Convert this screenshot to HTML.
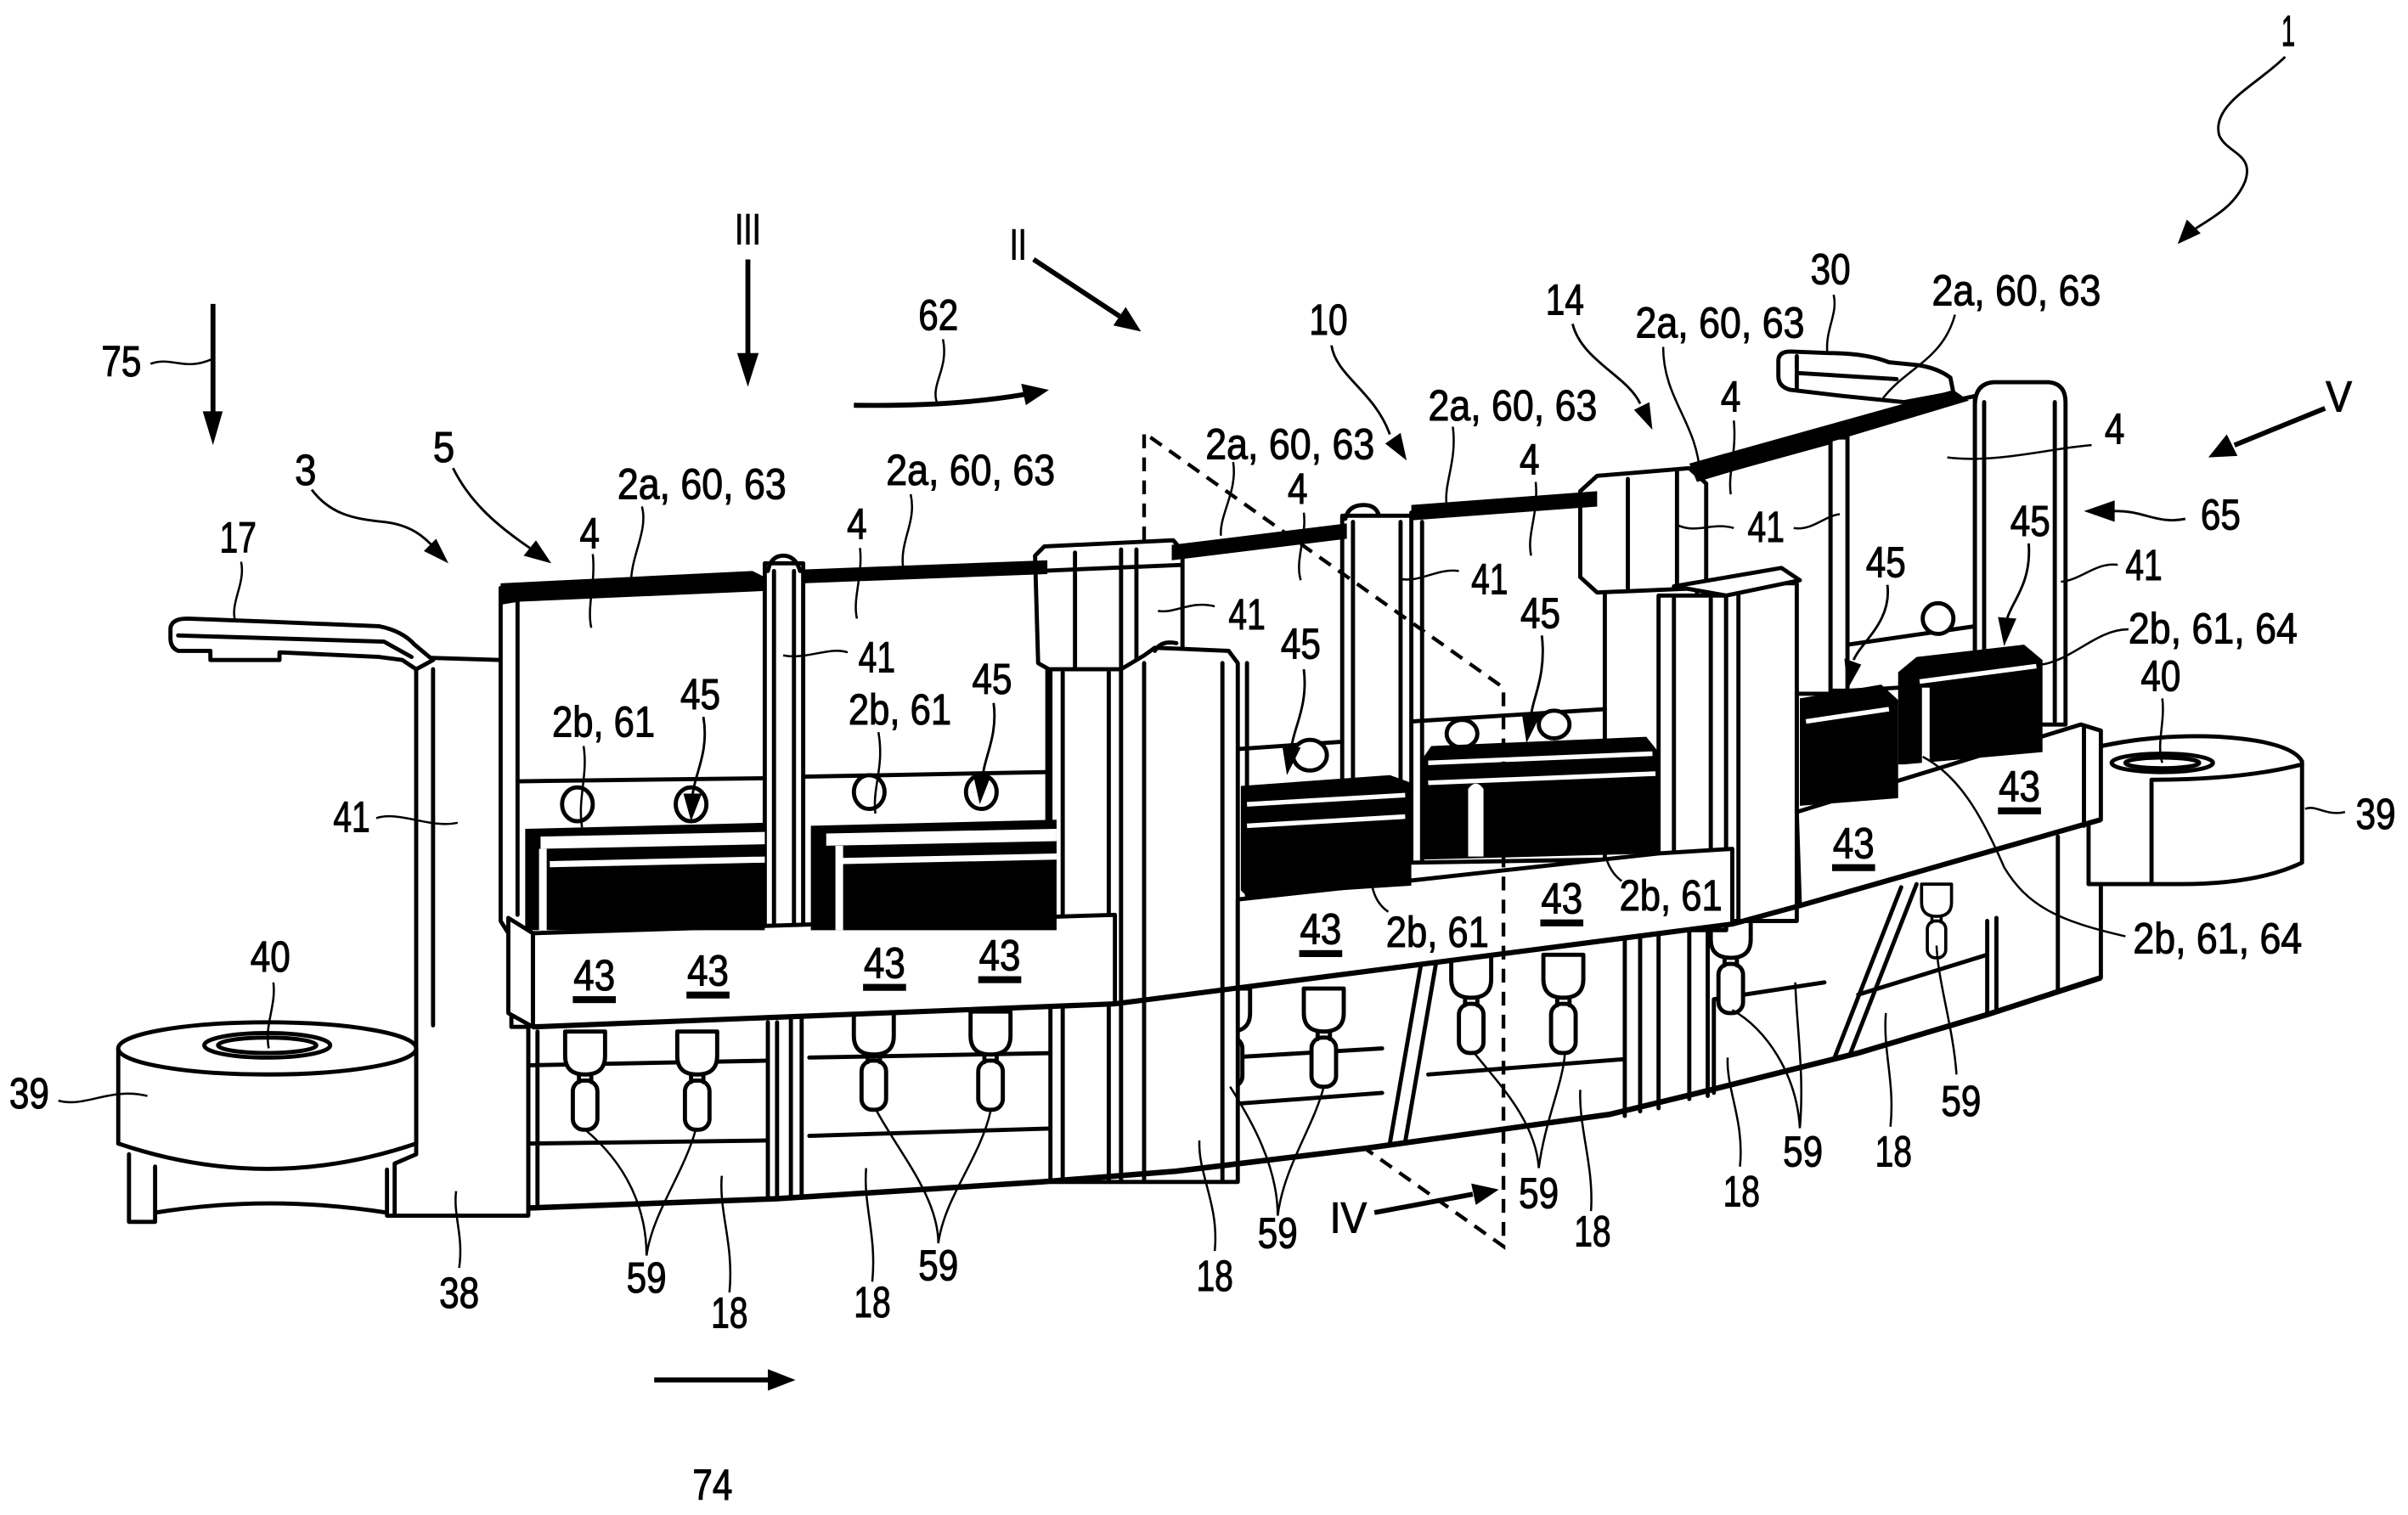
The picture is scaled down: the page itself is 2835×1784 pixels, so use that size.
<!DOCTYPE html>
<html><head><meta charset="utf-8">
<style>
html,body{margin:0;padding:0;background:#fff;}
svg{display:block;}
text{font-family:"Liberation Sans Narrow","Liberation Sans",sans-serif;font-size:28px;fill:#000;stroke:#000;stroke-width:0.6;text-anchor:middle;}
</style></head><body>
<svg width="2835" height="1784" viewBox="0 0 1568 987" preserveAspectRatio="none" xmlns="http://www.w3.org/2000/svg">
<defs>
<g id="pin"><path d="M-13,0 L13,0 L13,16 Q13,28 0,28 Q-13,28 -13,16 Z"/><rect x="-8" y="32" width="16" height="32" rx="7"/><path d="M-4,28 L-4,33 M4,28 L4,33" fill="none"/></g>
</defs>
<rect width="1568" height="987" fill="#fff"/>

<g fill="#fff" stroke="#000" stroke-width="2.7" stroke-linejoin="round" stroke-linecap="round">
<!-- lower housing -->
<path d="M344,668 L726,654 L1128,602 L1172,590 L1368,534 L1368,637 L1294,661 L1210,686 L1106,712 L1048,726 L890,748 L766,763 L678,770 L505,781 L344,787 Z"/>
<g fill="none">
<path d="M344,694 L500,691 M527,689 L690,686 M344,745 L500,743 M527,740 L690,735 M350,672 L350,786"/>
<path d="M500,666 L500,781 M506,666 L506,780 M515,664 L515,779 M522,664 L522,778 M690,656 L690,770"/>
<path d="M766,650 L766,763 M766,691 L900,683 M766,722 L900,712 M930,700 L1058,690 M905,745 L925,630 M915,744 L935,628 M1058,611 L1058,727 M1068,610 L1068,724 M1080,608 L1080,722 M1100,605 L1100,716 M1112,603 L1112,714"/>
<path d="M1116,651 L1188,640 M1116,651 L1116,712 M1195,688 L1238,578 M1205,686 L1248,576 M1210,648 L1294,622 M1294,600 L1294,661 M1300,598 L1300,659 M1340,545 L1340,645"/>
</g>
<use href="#pin" transform="translate(381,672)"/>
<use href="#pin" transform="translate(454,672)"/>
<use href="#pin" transform="translate(569,659)"/>
<use href="#pin" transform="translate(645,659)"/>
<use href="#pin" transform="translate(801,644)"/>
<use href="#pin" transform="translate(862,644)"/>
<use href="#pin" transform="translate(958,622)"/>
<use href="#pin" transform="translate(1018,622)"/>
<use href="#pin" transform="translate(1127,596)"/>
<use href="#pin" transform="translate(1261,576) scale(0.75)"/>

<!-- left column 41 / 38 -->
<path d="M262,428 L326,430 L333,436 L333,669 L344,669 L344,792 L257,792 L257,758 L271,752 L271,436 Z"/>
<path d="M282,436 L282,668" fill="none"/>

<!-- module panels -->
<path d="M326,383 L498,377 L498,608 L331,608 L326,600 Z"/>
<path d="M337,392 L337,596" fill="none"/>
<path d="M523,375 L682,370 L682,606 L523,608 Z"/>
<path d="M763,360 L877,346 L877,586 L763,586 Z"/>
<path d="M812,432 L812,584" fill="none"/>
<path d="M919,334 L1045,325 L1045,560 L919,562 Z"/>
<path d="M926,340 L926,560" fill="none"/>
<path d="M1105,312 L1192,288 L1192,452 L1105,452 Z"/>
<path d="M1203,276 L1286,258 L1286,445 L1203,450 Z"/>
<path d="M1286,264 Q1286,250 1298,249 L1334,249 Q1345,250 1345,262 L1345,472 L1286,472 Z"/>
<path d="M1292,262 L1292,470 M1338,262 L1338,470" fill="none"/>
<rect x="1192" y="285" width="11" height="165"/>
<!-- cap 30 -->
<path d="M1158,235 Q1158,229 1166,229 L1190,230 Q1215,230 1230,236 L1250,238 Q1262,240 1270,246 L1272,256 L1240,262 L1200,258 L1166,254 Q1158,252 1158,245 Z"/>
<path d="M1170,243 L1235,247 M1170,232 L1170,253" fill="none"/>

<!-- strips & bumps -->
<path d="M337,509 L498,507 M523,506 L682,503 M806,488 L877,483 M919,470 L1045,462 M1203,420 L1286,408" fill="none"/>
<ellipse cx="376" cy="524" rx="10" ry="11"/><ellipse cx="450" cy="524" rx="10" ry="11"/>
<ellipse cx="566" cy="516" rx="10" ry="11"/><ellipse cx="639" cy="516" rx="10" ry="11"/>
<ellipse cx="853" cy="492" rx="11" ry="10"/>
<ellipse cx="952" cy="478" rx="10" ry="9"/><ellipse cx="1012" cy="472" rx="10" ry="9"/>
<ellipse cx="1262" cy="403" rx="10" ry="10"/>

<!-- pillars / columns -->
<rect x="498" y="367" width="25" height="241"/>
<path d="M504,372 L504,606 M517,372 L517,606 M500,372 Q502,362 510,362 Q518,362 521,372" fill="none"/>
<path d="M674,362 L680,356 L764,352 L770,359 L770,432 L690,440 L676,432 Z"/>
<path d="M700,360 L700,436 M730,358 L730,436 M740,358 L740,434 M676,372 L770,368" fill="none"/>
<rect x="684" y="436" width="46" height="334"/>
<path d="M692,438 L692,770 M722,438 L722,770" fill="none"/>
<path d="M730,436 L745,427 L752,422 L800,424 L806,432 L806,770 L730,770 Z"/>
<path d="M745,432 L745,770 M796,432 L796,770 M752,424 Q756,417 766,419" fill="none"/>
<rect x="874" y="336" width="45" height="176"/>
<path d="M881,340 L881,512 M912,340 L912,512 M876,338 Q878,329 888,329 Q896,329 898,336" fill="none"/>
<rect x="1080" y="388" width="44" height="218"/>
<path d="M1090,390 L1090,606 M1114,390 L1114,606" fill="none"/>
<rect x="1124" y="380" width="46" height="220"/>
<path d="M1132,382 L1132,600" fill="none"/>
<path d="M1029,320 L1040,310 L1100,305 L1111,315 L1111,383 L1040,386 L1029,376 Z"/>
<path d="M1060,312 L1060,385 M1092,307 L1092,383" fill="none"/>
<path d="M1090,382 L1160,370 L1172,378 L1124,388 Z"/>
<path d="M1170,449 L1170,529" fill="none"/>

<!-- right cylinder -->
<path d="M1360,488 Q1400,478 1445,480 Q1492,483 1499,496 L1499,562 Q1470,576 1420,576 L1360,576 Z"/>
<path d="M1401,508 L1401,575 M1401,508 Q1460,508 1499,498" fill="none"/>
<ellipse cx="1408" cy="497" rx="33" ry="6"/>
<ellipse cx="1408" cy="497" rx="24" ry="3.5" fill="none"/>

<!-- bars 43 -->
<path d="M347,608 L726,596 L726,654 L347,669 Z"/>
<path d="M331,598 L347,608 L347,669 L331,660 Z"/>
<path d="M806,586 L1080,556 L1128,553 L1128,602 L806,644 Z"/>
<path d="M1170,529 L1355,472 L1368,476 L1368,534 L1172,590 Z"/>
<path d="M1357,474 L1357,538" fill="none"/>

<!-- left cylinder -->
<path d="M77,683 L77,745 Q174,778 271,745 L271,683 Z"/>
<ellipse cx="174" cy="683" rx="97" ry="17"/>
<ellipse cx="174" cy="681" rx="41" ry="8"/>
<ellipse cx="174" cy="681" rx="32" ry="5" fill="none"/>
<path d="M84,752 L84,796 L101,796 L101,760 M101,790 Q175,778 252,790 M252,762 L252,792 L258,792" fill="none"/>

<!-- bracket 17 -->
<path d="M111,409 Q112,403 122,403 L175,405 L247,408 Q262,411 270,420 L282,430 L271,436 L262,430 L247,428 L182,425 L182,430 L137,430 L137,424 L116,424 Q111,422 111,416 Z"/>
<path d="M116,414 L250,418 L268,428" fill="none"/>
</g>

<!-- black top bands -->
<g fill="#000">
<path d="M326,380 L490,372 L498,376 L498,385 L338,392 L326,394 Z"/>
<path d="M523,371 L682,365 L682,374 L523,380 Z"/>
<path d="M763,355 L877,341 L877,351 L763,365 Z"/>
<path d="M919,329 L1040,320 L1040,330 L919,339 Z"/>
<path d="M1100,302 L1272,254 L1282,261 L1105,314 Z"/>
</g>

<!-- black relay blocks -->
<g>
<path d="M342,540 L498,536 L498,606 L342,606 Z" fill="#000"/>
<path d="M352,545 L498,542 L498,550 L352,553 Z" fill="#fff"/>
<path d="M358,561 L498,558 L498,562 L358,565 Z" fill="#fff"/>
<rect x="351" y="553" width="5" height="53" fill="#fff"/>
<path d="M528,538 L688,534 L688,606 L528,606 Z" fill="#000"/>
<path d="M538,543 L688,540 L688,548 L538,551 Z" fill="#fff"/>
<path d="M545,559 L688,556 L688,560 L545,563 Z" fill="#fff"/>
<rect x="544" y="551" width="5" height="55" fill="#fff"/>
<path d="M808,512 L905,505 L919,510 L919,577 L812,584 L808,580 Z" fill="#000"/>
<path d="M812,524 L915,518 M812,538 L915,532" stroke="#fff" stroke-width="3" fill="none"/>
<path d="M925,496 L932,486 L1072,480 L1080,490 L1080,556 L925,560 Z" fill="#000"/>
<path d="M930,497 L1076,491 M930,510 L1078,504" stroke="#fff" stroke-width="3" fill="none"/>
<path d="M956,558 L956,514 Q961,507 966,514 L966,558 Z" fill="#fff"/>
<path d="M1172,455 L1225,446 L1236,456 L1236,520 L1172,525 Z" fill="#000"/>
<path d="M1176,470 L1230,462" stroke="#fff" stroke-width="3" fill="none"/>
<path d="M1236,438 L1248,428 L1318,420 L1330,430 L1330,490 L1240,498 L1236,498 Z" fill="#000"/>
<path d="M1250,444 L1326,434" stroke="#fff" stroke-width="3" fill="none"/>
<path d="M1254,448 L1254,497" stroke="#fff" stroke-width="5" fill="none"/>
</g>

<!-- bottom outline heavier -->
<path d="M344,787 L505,781 L678,770 L766,763 L890,748 L1048,726 L1106,712 L1210,686 L1294,661 L1368,637" fill="none" stroke="#000" stroke-width="3.6"/>
<path d="M347,669 L726,654 L1128,602 L1172,590 L1368,534" fill="none" stroke="#000" stroke-width="3.4"/>

<!-- dashed section line -->
<path d="M745,352 L745,282 L979,448 L979,812 L890,749" fill="none" stroke="#000" stroke-width="2.4" stroke-dasharray="9,6"/>

<!-- arrows -->
<g stroke="#000" stroke-width="3.2" fill="none">
<path d="M138.7,198 L138.7,272"/>
<path d="M487,169 L487,234"/>
<path d="M673,169 L729,206"/>
<path d="M556,264 Q620,265 667,257"/>
<path d="M1514,266 L1455,290"/>
<path d="M895,790 L959,778"/>
<path d="M426,899 L502,899"/>
</g>
<g fill="#000">
<path d="M132,268 L145,268 L138.7,290 Z"/>
<path d="M480,230 L494,230 L487,252 Z"/>
<path d="M733,200 L725,212 L743,216 Z"/>
<path d="M665,250 L668,264 L683,254 Z"/>
<path d="M1450,283 L1457,297 L1438,298 Z"/>
<path d="M958,771 L961,785 L976,775 Z"/>
<path d="M500,892 L500,906 L518,899 Z"/>
</g>

<!-- curved leader arrows -->
<g stroke="#000" stroke-width="1.6" fill="none">
<path d="M203,319 C215,335 230,338 250,340 C268,342 276,350 282,356"/>
<path d="M295,305 C305,325 320,340 345,357"/>
<path d="M867,225 C870,245 895,255 905,283"/>
<path d="M1024,211 C1030,235 1060,245 1068,263"/>
<path d="M1488,37 C1470,55 1440,68 1445,88 C1450,100 1468,100 1462,118 C1455,135 1440,142 1428,150"/>
<path d="M1423,338 C1405,342 1395,332 1376,333"/>
<path d="M458,467 C462,490 452,505 451,518"/>
<path d="M647,458 C650,480 640,495 640,507"/>
<path d="M849,436 C852,460 842,475 841,487"/>
<path d="M1004,414 C1007,440 998,455 997,466"/>
<path d="M1229,381 C1232,405 1212,418 1207,430"/>
<path d="M1321,354 C1323,380 1310,392 1307,403"/>
</g>
<g fill="#000">
<path d="M284,351 L276,359 L292,367 Z"/>
<path d="M349,352 L341,362 L359,367 Z"/>
<path d="M912,282 L902,289 L916,300 Z"/>
<path d="M1074,262 L1064,267 L1076,280 Z"/>
<path d="M1424,143 L1433,152 L1418,159 Z"/>
<path d="M1377,326 L1377,340 L1357,333 Z"/>
<path d="M445,517 L457,517 L450,535 Z"/>
<path d="M634,506 L645,506 L638,524 Z"/>
<path d="M835,486 L847,487 L838,505 Z"/>
<path d="M991,465 L1003,466 L994,484 Z"/>
<path d="M1201,429 L1212,433 L1203,449 Z"/>
<path d="M1301,402 L1313,403 L1305,421 Z"/>
</g>

<!-- thin label leaders -->
<g stroke="#000" stroke-width="1.4" fill="none">
<path d="M98,237 C112,232 120,242 138,234"/>
<path d="M157,366 C160,380 150,392 153,404"/>
<path d="M418,330 C422,345 412,360 411,377"/>
<path d="M386,361 C388,380 382,395 385,409"/>
<path d="M593,322 C597,340 586,352 588,369"/>
<path d="M560,357 C562,375 555,390 558,403"/>
<path d="M803,301 C806,320 794,335 795,349"/>
<path d="M849,334 C851,350 843,365 847,378"/>
<path d="M946,278 C949,300 940,315 942,329"/>
<path d="M1000,314 C1002,335 994,348 997,362"/>
<path d="M1083,226 C1083,260 1105,275 1107,309"/>
<path d="M1129,274 C1131,295 1125,308 1127,322"/>
<path d="M1273,205 C1265,235 1240,240 1225,261"/>
<path d="M1362,290 C1335,292 1300,302 1268,298"/>
<path d="M1194,192 C1197,205 1188,215 1190,231"/>
<path d="M614,221 C618,240 606,250 610,262"/>
<path d="M245,533 C260,528 280,540 298,536"/>
<path d="M552,425 C540,421 525,430 510,427"/>
<path d="M791,395 C775,391 765,400 754,398"/>
<path d="M950,372 C935,370 925,380 911,377"/>
<path d="M1129,344 C1115,340 1105,348 1092,342"/>
<path d="M1168,344 C1180,346 1188,336 1198,335"/>
<path d="M1379,368 C1365,366 1355,378 1342,379"/>
<path d="M380,486 C383,505 376,520 379,539"/>
<path d="M572,477 C576,500 568,512 570,530"/>
<path d="M904,594 C895,588 893,578 892,568"/>
<path d="M1056,574 C1048,568 1046,560 1044,553"/>
<path d="M1386,410 C1365,410 1350,430 1329,433"/>
<path d="M1384,610 C1340,600 1320,590 1305,565 C1290,530 1275,505 1252,493"/>
<path d="M1408,455 C1410,470 1404,485 1408,497"/>
<path d="M1527,529 C1515,532 1508,524 1501,527"/>
<path d="M178,640 C180,655 172,668 175,683"/>
<path d="M38,717 C55,722 72,708 96,714"/>
<path d="M299,826 C302,805 295,792 297,776"/>
<path d="M421,818 C421,790 410,760 381,736 M421,818 C425,790 445,765 453,736"/>
<path d="M611,810 C611,780 585,750 571,724 M611,810 C615,780 638,755 645,724"/>
<path d="M832,792 C832,760 815,730 801,708 M832,792 C836,760 855,735 862,708"/>
<path d="M1002,761 C1000,730 975,705 960,686 M1002,761 C1006,730 1018,705 1019,686"/>
<path d="M1172,735 C1170,700 1150,670 1128,658 M1172,735 C1175,700 1170,670 1169,640"/>
<path d="M1274,700 C1272,670 1262,640 1261,616"/>
<path d="M475,842 C478,810 468,790 470,766"/>
<path d="M568,835 C571,805 562,785 564,761"/>
<path d="M791,815 C794,785 780,765 781,743"/>
<path d="M1036,789 C1038,760 1028,735 1029,710"/>
<path d="M1133,760 C1136,730 1124,710 1125,689"/>
<path d="M1231,734 C1234,705 1226,685 1228,660"/>
</g>

<!-- labels -->
<g>
<text x="1490" y="30" textLength="9" lengthAdjust="spacingAndGlyphs">1</text>
<text x="487" y="159" textLength="17" lengthAdjust="spacingAndGlyphs">III</text>
<text x="663" y="169" textLength="11" lengthAdjust="spacingAndGlyphs">II</text>
<text x="1192" y="185" textLength="26" lengthAdjust="spacingAndGlyphs">30</text>
<text x="1313" y="199" textLength="110" lengthAdjust="spacingAndGlyphs">2a, 60, 63</text>
<text x="611" y="215" textLength="26" lengthAdjust="spacingAndGlyphs">62</text>
<text x="865" y="218" textLength="25" lengthAdjust="spacingAndGlyphs">10</text>
<text x="1019" y="205" textLength="25" lengthAdjust="spacingAndGlyphs">14</text>
<text x="1120" y="220" textLength="110" lengthAdjust="spacingAndGlyphs">2a, 60, 63</text>
<text x="79" y="245" textLength="26" lengthAdjust="spacingAndGlyphs">75</text>
<text x="985" y="274" textLength="110" lengthAdjust="spacingAndGlyphs">2a, 60, 63</text>
<text x="1523" y="268" textLength="17" lengthAdjust="spacingAndGlyphs">V</text>
<text x="840" y="299" textLength="110" lengthAdjust="spacingAndGlyphs">2a, 60, 63</text>
<text x="1127" y="268" textLength="13" lengthAdjust="spacingAndGlyphs">4</text>
<text x="1377" y="289" textLength="13" lengthAdjust="spacingAndGlyphs">4</text>
<text x="996" y="309" textLength="13" lengthAdjust="spacingAndGlyphs">4</text>
<text x="845" y="328" textLength="13" lengthAdjust="spacingAndGlyphs">4</text>
<text x="632" y="316" textLength="110" lengthAdjust="spacingAndGlyphs">2a, 60, 63</text>
<text x="457" y="325" textLength="110" lengthAdjust="spacingAndGlyphs">2a, 60, 63</text>
<text x="289" y="301" textLength="14" lengthAdjust="spacingAndGlyphs">5</text>
<text x="199" y="316" textLength="14" lengthAdjust="spacingAndGlyphs">3</text>
<text x="1446" y="345" textLength="26" lengthAdjust="spacingAndGlyphs">65</text>
<text x="155" y="360" textLength="24" lengthAdjust="spacingAndGlyphs">17</text>
<text x="384" y="357" textLength="13" lengthAdjust="spacingAndGlyphs">4</text>
<text x="558" y="351" textLength="13" lengthAdjust="spacingAndGlyphs">4</text>
<text x="1322" y="349" textLength="26" lengthAdjust="spacingAndGlyphs">45</text>
<text x="1150" y="353" textLength="24" lengthAdjust="spacingAndGlyphs">41</text>
<text x="1396" y="378" textLength="24" lengthAdjust="spacingAndGlyphs">41</text>
<text x="1228" y="376" textLength="26" lengthAdjust="spacingAndGlyphs">45</text>
<text x="970" y="387" textLength="24" lengthAdjust="spacingAndGlyphs">41</text>
<text x="1003" y="409" textLength="26" lengthAdjust="spacingAndGlyphs">45</text>
<text x="812" y="410" textLength="24" lengthAdjust="spacingAndGlyphs">41</text>
<text x="1441" y="419" textLength="110" lengthAdjust="spacingAndGlyphs">2b, 61, 64</text>
<text x="847" y="429" textLength="26" lengthAdjust="spacingAndGlyphs">45</text>
<text x="571" y="438" textLength="24" lengthAdjust="spacingAndGlyphs">41</text>
<text x="646" y="452" textLength="26" lengthAdjust="spacingAndGlyphs">45</text>
<text x="456" y="462" textLength="26" lengthAdjust="spacingAndGlyphs">45</text>
<text x="586" y="472" textLength="67" lengthAdjust="spacingAndGlyphs">2b, 61</text>
<text x="393" y="480" textLength="67" lengthAdjust="spacingAndGlyphs">2b, 61</text>
<text x="1407" y="450" textLength="26" lengthAdjust="spacingAndGlyphs">40</text>
<text x="229" y="542" textLength="24" lengthAdjust="spacingAndGlyphs">41</text>
<text x="1547" y="540" textLength="26" lengthAdjust="spacingAndGlyphs">39</text>
<text x="1088" y="593" textLength="67" lengthAdjust="spacingAndGlyphs">2b, 61</text>
<text x="936" y="617" textLength="67" lengthAdjust="spacingAndGlyphs">2b, 61</text>
<text x="1444" y="621" textLength="110" lengthAdjust="spacingAndGlyphs">2b, 61, 64</text>
<text x="176" y="633" textLength="26" lengthAdjust="spacingAndGlyphs">40</text>
<text x="19" y="722" textLength="26" lengthAdjust="spacingAndGlyphs">39</text>
<text x="1277" y="727" textLength="26" lengthAdjust="spacingAndGlyphs">59</text>
<text x="1233" y="760" textLength="24" lengthAdjust="spacingAndGlyphs">18</text>
<text x="1174" y="760" textLength="26" lengthAdjust="spacingAndGlyphs">59</text>
<text x="1134" y="786" textLength="24" lengthAdjust="spacingAndGlyphs">18</text>
<text x="1002" y="787" textLength="26" lengthAdjust="spacingAndGlyphs">59</text>
<text x="878" y="803" textLength="24" lengthAdjust="spacingAndGlyphs">IV</text>
<text x="1037" y="812" textLength="24" lengthAdjust="spacingAndGlyphs">18</text>
<text x="832" y="813" textLength="26" lengthAdjust="spacingAndGlyphs">59</text>
<text x="791" y="841" textLength="24" lengthAdjust="spacingAndGlyphs">18</text>
<text x="611" y="834" textLength="26" lengthAdjust="spacingAndGlyphs">59</text>
<text x="421" y="842" textLength="26" lengthAdjust="spacingAndGlyphs">59</text>
<text x="299" y="852" textLength="26" lengthAdjust="spacingAndGlyphs">38</text>
<text x="568" y="858" textLength="24" lengthAdjust="spacingAndGlyphs">18</text>
<text x="475" y="865" textLength="24" lengthAdjust="spacingAndGlyphs">18</text>
<text x="464" y="977" textLength="26" lengthAdjust="spacingAndGlyphs">74</text>
</g>

<!-- 43 labels with underline -->
<g>
<text x="1315" y="522" textLength="27" lengthAdjust="spacingAndGlyphs">43</text>
<rect x="1301" y="526" width="28" height="4.5" fill="#000"/>
<text x="1207" y="559" textLength="27" lengthAdjust="spacingAndGlyphs">43</text>
<rect x="1193" y="563" width="28" height="4.5" fill="#000"/>
<text x="1017" y="595" textLength="27" lengthAdjust="spacingAndGlyphs">43</text>
<rect x="1003" y="599" width="28" height="4.5" fill="#000"/>
<text x="860" y="615" textLength="27" lengthAdjust="spacingAndGlyphs">43</text>
<rect x="846" y="619" width="28" height="4.5" fill="#000"/>
<text x="387" y="645" textLength="27" lengthAdjust="spacingAndGlyphs">43</text>
<rect x="373" y="649" width="28" height="4.5" fill="#000"/>
<text x="461" y="642" textLength="27" lengthAdjust="spacingAndGlyphs">43</text>
<rect x="447" y="646" width="28" height="4.5" fill="#000"/>
<text x="576" y="637" textLength="27" lengthAdjust="spacingAndGlyphs">43</text>
<rect x="562" y="641" width="28" height="4.5" fill="#000"/>
<text x="651" y="632" textLength="27" lengthAdjust="spacingAndGlyphs">43</text>
<rect x="637" y="636" width="28" height="4.5" fill="#000"/>
</g>
</svg>
</body></html>
